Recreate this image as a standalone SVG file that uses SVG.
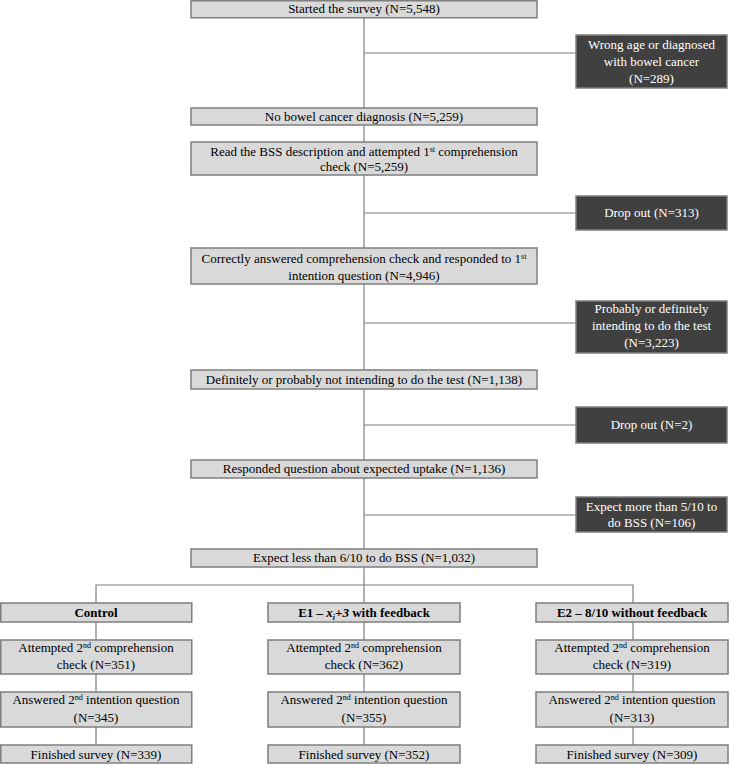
<svg xmlns="http://www.w3.org/2000/svg" width="729" height="764" viewBox="0 0 729 764">
<style>
.lb{fill:#d9d9d9;stroke:#7f7f7f;stroke-width:1.5}
.dk{fill:#404040;stroke:#7f7f7f;stroke-width:1.5}
.c{stroke:#7f7f7f;stroke-width:1.2;fill:none}
text{font-family:"Liberation Serif","Times New Roman",serif;font-size:13px;text-anchor:middle;fill:#000}
.w{fill:#fff}
.b{font-weight:bold}
.sup{font-size:8px}
</style>
<rect width="729" height="764" fill="#fff"/>
<g id="connectors">
<path class="c" d="M364 17V549"/>
<path class="c" d="M364 53H576M364 213H576M364 323H576M364 425H576M364 515H576"/>
<path class="c" d="M364 567V585M96 603V585H633V603M364 585V603"/>
<path class="c" d="M96 622V640M96 674V692M96 727V745"/>
<path class="c" d="M364 622V640M364 674V692M364 727V745"/>
<path class="c" d="M633 622V640M633 674V692M633 727V745"/>
</g>
<g id="n1"><rect class="lb" x="191" y="0.75" width="346" height="17"/><text x="364" y="13">Started the survey (N=5,548)</text></g>
<g id="x1"><rect class="dk" x="576" y="35" width="151" height="53"/><text class="w" x="651.5" y="49">Wrong age or diagnosed</text><text class="w" x="651.5" y="66">with bowel cancer</text><text class="w" x="651.5" y="83">(N=289)</text></g>
<g id="n2"><rect class="lb" x="191" y="108" width="346" height="17"/><text x="364" y="121">No bowel cancer diagnosis (N=5,259)</text></g>
<g id="n3"><rect class="lb" x="191" y="142" width="346" height="33"/><text x="364" y="156">Read the BSS description and attempted 1<tspan class="sup" dy="-4">st</tspan><tspan dy="4"> comprehension</tspan></text><text x="364" y="171">check (N=5,259)</text></g>
<g id="x2"><rect class="dk" x="576" y="196" width="151" height="34"/><text class="w" x="651.5" y="217">Drop out (N=313)</text></g>
<g id="n4"><rect class="lb" x="191" y="248" width="346" height="36"/><text x="364" y="263">Correctly answered comprehension check and responded to 1<tspan class="sup" dy="-4">st</tspan></text><text x="364" y="280">intention question (N=4,946)</text></g>
<g id="x3"><rect class="dk" x="576" y="301" width="151" height="52"/><text class="w" x="651.5" y="313">Probably or definitely</text><text class="w" x="651.5" y="330">intending to do the test</text><text class="w" x="651.5" y="347">(N=3,223)</text></g>
<g id="n5"><rect class="lb" x="191" y="370" width="346" height="19"/><text x="364" y="384">Definitely or probably not intending to do the test (N=1,138)</text></g>
<g id="x4"><rect class="dk" x="576" y="407" width="151" height="36"/><text class="w" x="651.5" y="429">Drop out (N=2)</text></g>
<g id="n6"><rect class="lb" x="191" y="460" width="346" height="18"/><text x="364" y="473">Responded question about expected uptake (N=1,136)</text></g>
<g id="x5"><rect class="dk" x="576" y="497" width="151" height="35"/><text class="w" x="651.5" y="511">Expect more than 5/10 to</text><text class="w" x="651.5" y="527">do BSS (N=106)</text></g>
<g id="n7"><rect class="lb" x="191" y="549" width="346" height="18"/><text x="364" y="562" textLength="222" lengthAdjust="spacingAndGlyphs">Expect less than 6/10 to do BSS (N=1,032)</text></g>
<g id="c1"><rect class="lb" x="0.75" y="603" width="191" height="19"/><text class="b" x="96" y="617">Control</text></g>
<g id="c2"><rect class="lb" x="0.75" y="640" width="191" height="34"/><text x="96" y="652">Attempted 2<tspan class="sup" dy="-4">nd</tspan><tspan dy="4"> comprehension</tspan></text><text x="96" y="669">check (N=351)</text></g>
<g id="c3"><rect class="lb" x="0.75" y="692" width="191" height="35"/><text x="96" y="704">Answered 2<tspan class="sup" dy="-4">nd</tspan><tspan dy="4"> intention question</tspan></text><text x="96" y="722">(N=345)</text></g>
<g id="c4"><rect class="lb" x="0.75" y="745" width="191" height="18"/><text x="96" y="759">Finished survey (N=339)</text></g>
<g id="e1a"><rect class="lb" x="268" y="603" width="192" height="19"/><text class="b" x="364" y="617">E1 – <tspan font-style="italic">x</tspan><tspan font-style="italic" class="sup" dy="3">i</tspan><tspan font-style="italic" dy="-3">+3</tspan> with feedback</text></g>
<g id="e1b"><rect class="lb" x="268" y="640" width="192" height="34"/><text x="364" y="652">Attempted 2<tspan class="sup" dy="-4">nd</tspan><tspan dy="4"> comprehension</tspan></text><text x="364" y="669">check (N=362)</text></g>
<g id="e1c"><rect class="lb" x="268" y="692" width="192" height="35"/><text x="364" y="704">Answered 2<tspan class="sup" dy="-4">nd</tspan><tspan dy="4"> intention question</tspan></text><text x="364" y="722">(N=355)</text></g>
<g id="e1d"><rect class="lb" x="268" y="745" width="192" height="18"/><text x="364" y="759">Finished survey (N=352)</text></g>
<g id="e2a"><rect class="lb" x="536" y="603" width="192" height="19"/><text class="b" x="632" y="617">E2 – 8/10 without feedback</text></g>
<g id="e2b"><rect class="lb" x="536" y="640" width="192" height="34"/><text x="632" y="652">Attempted 2<tspan class="sup" dy="-4">nd</tspan><tspan dy="4"> comprehension</tspan></text><text x="632" y="669">check (N=319)</text></g>
<g id="e2c"><rect class="lb" x="536" y="692" width="192" height="35"/><text x="632" y="704">Answered 2<tspan class="sup" dy="-4">nd</tspan><tspan dy="4"> intention question</tspan></text><text x="632" y="722">(N=313)</text></g>
<g id="e2d"><rect class="lb" x="536" y="745" width="192" height="18"/><text x="632" y="759">Finished survey (N=309)</text></g>
</svg>
